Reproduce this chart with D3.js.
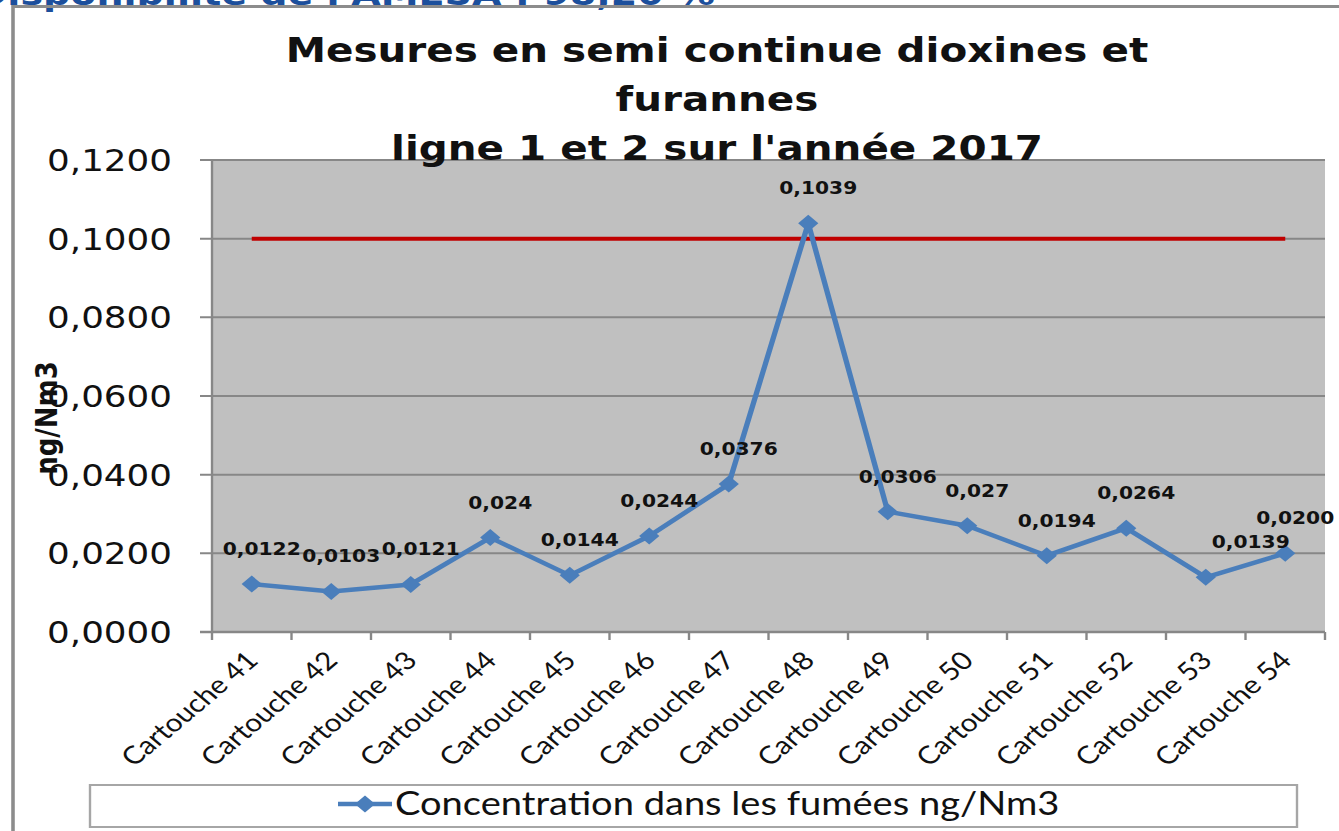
<!DOCTYPE html>
<meta charset="utf-8">
<head>
  <title>Mesures en semi continue dioxines et furannes</title>
  <script src="https://d3js.org/d3.v7.min.js"></script>
  <style>
    body { margin: 0; background: #fff; }
    svg { display: block; }
    .grid line { stroke: #878787; stroke-width: 2; }
    .ylab { font-family: "DejaVu Sans"; font-size: 30px; fill: #111; }
    .xlab { font-family: Lato; font-size: 25px; fill: #111; }
    .vlab { font-family: "DejaVu Sans"; font-weight: bold; font-size: 17px; fill: #111; }
  </style>
</head>
<body>
<div id="chart"></div>
<script>
// chart data
var cartouches = ["Cartouche 41", "Cartouche 42", "Cartouche 43", "Cartouche 44", "Cartouche 45",
  "Cartouche 46", "Cartouche 47", "Cartouche 48", "Cartouche 49", "Cartouche 50",
  "Cartouche 51", "Cartouche 52", "Cartouche 53", "Cartouche 54"];
var concentration = [0.0122, 0.0103, 0.0121, 0.024, 0.0144, 0.0244, 0.0376, 0.1039,
  0.0306, 0.027, 0.0194, 0.0264, 0.0139, 0.0200];
var valueLabels = ["0,0122", "0,0103", "0,0121", "0,024", "0,0144", "0,0244", "0,0376",
  "0,1039", "0,0306", "0,027", "0,0194", "0,0264", "0,0139", "0,0200"];
var seuil = 0.1;
var yTicks = [0, 0.02, 0.04, 0.06, 0.08, 0.10, 0.12];
var titleLines = ["Mesures en semi continue dioxines et", "furannes", "ligne 1 et 2 sur l'année 2017"];
var headerText = "Disponibilité de l'AMESA : 98,20 %";
var yTitle = "ng/Nm3";
var legendLabel = "Concentration dans les fumées ng/Nm3";

// the picture is stretched sideways, so draw narrow and let the viewBox widen it
var W = 1339, H = 831, S = 1.19;
var sx = function(v) { return v / S; };

var svg = d3.select("#chart").append("svg")
  .attr("width", W).attr("height", H)
  .attr("viewBox", "0 0 " + sx(W) + " " + H)
  .attr("preserveAspectRatio", "none");

var plotLeft = sx(212), plotRight = sx(1325), plotTop = 160, plotBottom = 632;

var x = d3.scaleBand().domain(cartouches).range([plotLeft, plotRight]);
var y = d3.scaleLinear().domain([0, 0.12]).range([plotBottom, plotTop]);
var cx = function(d) { return x(d) + x.bandwidth() / 2; };
var fmt = function(v) { return d3.format(".4f")(v).replace(".", ","); };

// header text cut by the top of the frame
svg.append("text")
  .attr("x", sx(715)).attr("y", 5)
  .attr("text-anchor", "end")
  .style("font-family", "DejaVu Sans").style("font-weight", "bold")
  .style("font-size", "32px").style("fill", "#1c4f9c")
  .text(headerText);

// frame
svg.append("path")
  .attr("d", "M" + sx(13) + "," + H + "V6.5H" + sx(W + 5))
  .attr("fill", "none").attr("stroke", "#8c8c8c").attr("stroke-width", 3);

// plot area
svg.append("rect")
  .attr("x", plotLeft).attr("y", plotTop)
  .attr("width", plotRight - plotLeft).attr("height", plotBottom - plotTop)
  .attr("fill", "#c0c0c0");

// gridlines + y ticks
var grid = svg.append("g").attr("class", "grid");
grid.selectAll("line").data(yTicks).enter().append("line")
  .attr("x1", sx(200)).attr("x2", plotRight)
  .attr("y1", d => y(d)).attr("y2", d => y(d));

// y axis line
svg.append("line")
  .attr("x1", plotLeft).attr("x2", plotLeft).attr("y1", plotTop).attr("y2", plotBottom)
  .attr("stroke", "#878787").attr("stroke-width", 2);

// x axis + ticks
var xb = cartouches.map(d => x(d)).concat([plotRight]);
svg.append("line")
  .attr("x1", sx(200)).attr("x2", plotRight).attr("y1", plotBottom).attr("y2", plotBottom)
  .attr("stroke", "#878787").attr("stroke-width", 2.5);
svg.selectAll(".xtick").data(xb).enter().append("line")
  .attr("class", "xtick")
  .attr("x1", d => d).attr("x2", d => d)
  .attr("y1", plotBottom).attr("y2", plotBottom + 8)
  .attr("stroke", "#878787").attr("stroke-width", 2);

// y labels
svg.selectAll(".ylab").data(yTicks).enter().append("text")
  .attr("class", "ylab")
  .attr("x", sx(172)).attr("y", d => y(d) + 11)
  .attr("text-anchor", "end")
  .text(fmt);

// x labels
svg.selectAll(".xlab").data(cartouches).enter().append("text")
  .attr("class", "xlab")
  .attr("text-anchor", "end")
  .attr("transform", d => "translate(" + (cx(d) + sx(8)) + ",662) rotate(-45)")
  .text(d => d);

// y title
svg.append("text")
  .attr("transform", "translate(" + sx(57) + ",418) rotate(-90)")
  .attr("text-anchor", "middle")
  .style("font-family", "DejaVu Sans").style("font-weight", "bold")
  .style("font-size", "26px").style("fill", "#111")
  .text(yTitle);

// title
svg.selectAll(".title").data(titleLines).enter().append("text")
  .attr("class", "title")
  .attr("x", sx(717)).attr("y", (d, i) => 62 + i * 49)
  .attr("text-anchor", "middle")
  .style("font-family", "DejaVu Sans").style("font-weight", "bold")
  .style("font-size", "34px").style("fill", "#111")
  .text(d => d);

// limit line
svg.append("line")
  .attr("x1", cx(cartouches[0])).attr("x2", cx(cartouches[cartouches.length - 1]))
  .attr("y1", y(seuil)).attr("y2", y(seuil))
  .attr("stroke", "#c00000").attr("stroke-width", 4);

// series
var line = d3.line().x((d, i) => cx(cartouches[i])).y(d => y(d));
svg.append("path")
  .datum(concentration)
  .attr("d", line)
  .attr("fill", "none").attr("stroke", "#4a7ebb").attr("stroke-width", 4.5)
  .attr("stroke-linejoin", "round");

var diamond = d3.symbol().type(d3.symbolSquare).size(145);
svg.selectAll(".pt").data(concentration).enter().append("path")
  .attr("class", "pt")
  .attr("d", diamond)
  .attr("fill", "#4a7ebb")
  .attr("transform", (d, i) => "translate(" + cx(cartouches[i]) + "," + y(d) + ") rotate(45)");

// value labels
svg.selectAll(".vlab").data(concentration).enter().append("text")
  .attr("class", "vlab")
  .attr("text-anchor", "middle")
  .attr("x", (d, i) => cx(cartouches[i]) + sx(i === 12 ? 45 : 10))
  .attr("y", d => y(d) - 29)
  .text((d, i) => valueLabels[i]);

// legend
var lg = svg.append("g");
lg.append("rect")
  .attr("x", sx(90)).attr("y", 785)
  .attr("width", sx(1297 - 90)).attr("height", 42)
  .attr("fill", "#fff").attr("stroke", "#a6a6a6").attr("stroke-width", 2);
lg.append("line")
  .attr("x1", sx(338)).attr("x2", sx(392)).attr("y1", 804).attr("y2", 804)
  .attr("stroke", "#4a7ebb").attr("stroke-width", 4.5);
lg.append("path")
  .attr("d", diamond)
  .attr("fill", "#4a7ebb")
  .attr("transform", "translate(" + sx(365) + ",804) rotate(45)");
lg.append("text")
  .attr("x", sx(395)).attr("y", 815)
  .style("font-family", "Lato").style("font-size", "32px").style("fill", "#111")
  .text(legendLabel);
</script>
</body>
